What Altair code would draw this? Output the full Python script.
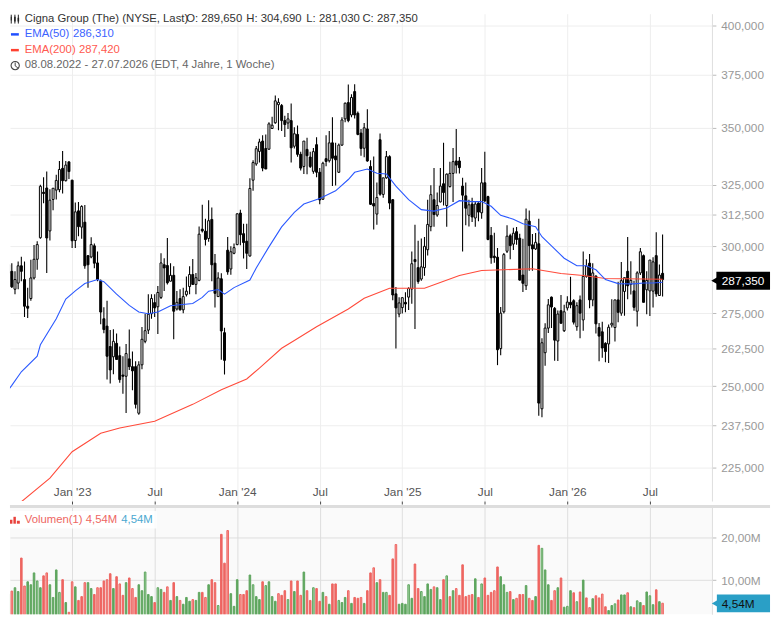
import altair as alt
import pandas as pd

opens = [290.4,289.8,290.4,283.7,286,292.5,287.3,277.5,280.3,287.9,
295,303.4,321.9,323.7,306.1,318.9,322.8,323,332.1,326.8,
334.9,327,302.3,314.2,307.6,309.6,296.4,295.9,300.2,293.6,
286.7,273,270.4,263.3,259.8,264.4,260.2,253.7,253.3,259.1,
256.5,256.5,241.4,257.1,265.1,269,274.8,278.8,277.3,280.7,
292.9,292.6,286.7,288.9,276.5,280.3,276.2,281.7,284.7,289.2,
285.5,287,306.8,306,303.1,310.7,293.5,281,287.6,268.1,
298.5,291.3,297.3,300.7,313.3,305,302,296.3,327,334,
339.5,344.1,340.8,340.5,349.8,352.4,360.8,360.4,353.4,352.3,
353.4,341.8,347.1,338.2,332.9,340.4,337,330.8,342.5,330.4,
319,336.3,335.4,343.3,337.5,330.4,342.3,354.2,361.8,356,
367,356.8,347.7,340.9,349.6,332.9,317.2,312.9,344.7,321,
328,337.2,318.8,282,274.7,277,278.9,280.8,283.8,294.9,
291.8,287.5,291.8,298.7,307.8,318.8,312.5,317.9,325.5,316.4,
324.3,329.9,335.3,335.3,324.5,320.4,312.4,317,311.3,317.4,
313.4,325.9,320.1,304.3,296.2,295.8,262.6,275.5,298.1,304.2,
300.9,305.8,303.2,289,285,310,300.6,299,301,242.8,
261.2,269.7,280.8,276.7,265.2,275.9,268.8,276.9,278.9,279.5,
270.2,279.8,272.6,288.5,293.5,279.8,288.6,269.9,268.4,264.4,
264.2,270.8,269.9,279.8,275,282.9,290.4,285.5,283.1,275.7,
289.8,296.4,283.5,283.1,283,296.4,281.4,289.65]

highs = [292,293.5,293.5,290.4,294.1,296,294.1,284.3,294.8,300.5,
302,325.1,328.3,330.7,323.2,323.7,329.3,335.3,339.7,335.3,
335.2,327.2,317.6,317.9,316.5,316.6,296.4,303.6,301.1,298,
287.3,277.1,279.5,269,269.3,267.8,263.3,260,264.2,269.2,
261.6,258.3,258.3,270.1,274.8,281.9,281.9,281.9,284.9,297.3,
295.4,303.3,293.5,292.3,283.1,283.7,284.3,288.5,292.3,295.1,
289.8,307.9,316.7,311,318.6,315.6,297,290.1,289.7,269.8,
303.7,300,301.1,313.2,314.7,309,309,327.8,335.6,341.9,
345.2,346.7,347.1,352.6,355.2,365.2,363.9,361.1,355.7,356.9,
361.4,350.4,351.2,339.3,344.1,345.6,339.3,341,345.8,332.2,
335,346.7,348.6,354.9,343.3,343,354.9,361.8,370.4,365.7,
370.5,357.6,349.6,352.3,358.7,335.6,337.3,326,347.5,328,
339.7,337.8,319.1,284.5,280.8,280.8,282.6,284.4,298,308.6,
302.2,303.1,303.7,318.8,324.9,332.2,321.8,332.2,343.4,329.9,
335,341,349.6,337,328,326,318.8,319.6,318.3,317.7,
332.2,339.3,320.4,307.7,305.4,299.4,277.2,297.4,308.4,305,
307.4,307.7,305,303,315.2,314.3,304.9,305.3,311,266.2,
271.4,280.1,281,277.2,276,281.6,278,281.1,288.4,280,
278.9,281.4,298,295,297,293.5,288.9,271.5,271.9,264.8,
271,280,279.8,286.5,294,288,303.7,294.2,286.9,290.4,
299.4,296.8,290.4,294.7,295.8,305.6,293,304.69]

lows = [280,287.9,284.2,281.9,283.7,286.7,273.6,273.3,279.5,287.3,
291,303,317.3,289.8,302.3,314.5,318.9,321.9,321.4,326.5,
327.5,299.4,299.4,304,303,291.4,284.3,295.4,291.6,286.7,
271.1,267.9,252.2,250.9,254,258.9,251.2,247.6,241.5,255.4,
248.7,242.9,240.9,255.6,264.4,267.6,273,273.6,267.6,280.1,
283.1,285.5,286.7,265.8,276,276,275,281,281.9,285.3,
281.9,286.7,305.5,300.3,301.8,286.7,277,280.9,258.8,253.9,
289.1,289.1,296.9,300.4,300.4,295.3,291.3,296,322.5,333.2,
334.6,330.8,331.8,340.1,349.6,352,349,348.6,345.9,349.6,
334.6,340.8,337.1,331.2,329.7,329.5,332.2,329.8,328.3,316.9,
318.7,333,334.6,324.5,324.8,330.1,342,352.6,352.6,354.9,
354.4,346.7,337.6,336.9,335,316.6,306.7,308.6,320.4,319.6,
327.6,314.9,279.7,262.6,273.5,274.9,275.3,276.1,278.4,269.4,
285.7,286.9,288.7,296.5,306,307.8,311.8,317.6,316.4,307.8,
323.9,317.9,329.9,329.9,298,308.4,307.9,309.7,307.8,310,
311,317.7,302.4,293.3,293.7,257,260.3,274.9,297.4,295,
298.6,300.6,287,282.7,283.4,290.6,290.6,298.6,240.6,240.1,
256.8,268,269.7,258.5,258.4,271.4,268.3,276,276.8,271,
268.8,266.2,268.8,288,276.8,277.5,267.8,258.3,259.5,258,
257.7,269.9,265,271.8,274.1,274.1,280,281.8,275.9,270.3,
289,278.9,274.6,274,277,280.9,281.2,281.03]

closes = [282,292.9,284.6,287.3,292.5,290.4,277.5,276.8,287.9,295,
300.7,324.4,321.4,303.3,318.6,323.6,326.9,331.6,326.8,333.5,
330.7,302.2,313.8,307.8,316,292.5,292.9,300.7,293.5,287.3,
275.4,269.2,260,255.4,265.1,258.9,252.2,253.3,260.9,256.5,
255.1,244.2,257.1,265.8,268.8,274.6,280.3,276.9,282.5,293.6,
291.7,286.1,288.9,275.7,278.9,276.2,281,283,289.2,285.5,
288,304.8,306.1,302.7,310.2,292.9,282.2,287.9,268.7,258.6,
290.2,297.9,299.5,313,304.6,301.5,297.3,323.5,334.6,340.7,
343.7,332.2,331.8,351.9,351.3,362.6,361.9,353.4,351.6,354.2,
341.1,347.4,338.2,332.2,344.1,337.6,332.9,339.4,330.4,318.7,
334.3,335.1,343.3,336.5,335.8,342.3,353.7,361.5,353.4,364.2,
356,347.1,340.8,350.1,335.3,316.9,316.2,319.7,321.1,328,
337.2,317.4,281.6,276.9,278.7,280.6,278.3,284,293.3,294.1,
286.6,292.1,300,308.7,320.9,312.7,316.4,324.5,321.8,329.6,
329.9,335,333.5,332.4,320.7,315.3,316.7,311.7,317,313.7,
325.9,318.3,302.7,295.6,295.6,262.2,275,296.8,304,300.3,
305.2,302.7,287.1,285.9,310.8,300.3,299,301.6,244.6,264.6,
269.7,278,277.2,265.5,274.7,271.4,275.5,279,278,271.8,
277.7,275,288.5,292.4,279.8,289.8,271.2,266.9,262.8,261.6,
270,271.4,279.8,275.3,286.9,288,285,287,277.1,289.8,
297.9,278.9,287,294.7,294,282,289,287.35]

volumes = [5.5,6.6,7.4,8.2,7.3,15.2,8.6,9.6,8.9,11.7,
9.8,8.2,11.0,11.7,8.9,5.9,12.4,7.1,10.1,4.7,
2.4,9.6,8.4,5.2,6.1,9.4,9.4,8.0,6.6,8.2,
8.2,9.8,10.1,11.5,8.0,10.8,9.1,6.4,9.4,10.5,
8.0,5.9,8.9,7.5,11.9,6.6,6.1,4.7,8.2,7.8,
7.1,8.4,5.2,9.4,6.1,5.2,4.3,5.9,5.0,5.4,
5.2,7.1,7.1,5.9,8.9,10.1,9.4,4.0,20.8,14.0,
21.7,6.8,3.8,10.1,6.6,6.6,7.5,11.2,8.9,6.1,
5.4,9.6,8.7,9.6,6.1,5.0,6.8,6.4,7.5,5.4,
9.8,7.3,9.8,6.4,11.9,7.5,5.2,8.2,8.0,5.0,
7.1,6.1,4.3,9.1,9.1,5.2,4.7,5.9,7.5,4.5,
5.9,5.7,5.9,4.5,7.5,11.7,12.9,9.4,10.1,7.1,
7.1,6.4,15.0,18.4,4.3,4.5,4.3,8.9,5.7,13.8,
8.0,7.3,6.1,9.1,7.8,8.4,8.2,5.4,10.1,11.0,
6.1,7.5,8.0,6.4,13.6,6.1,6.4,6.6,10.3,5.9,
9.1,10.5,6.4,7.1,7.5,13.1,10.8,8.9,7.1,7.3,
5.4,5.7,6.6,6.6,8.7,5.7,5.2,6.1,18.2,17.5,
12.4,8.9,5.2,7.5,8.2,10.5,3.6,3.8,7.5,7.0,
4.9,7.2,10.0,5.8,3.5,5.6,6.3,5.8,6.7,3.7,
2.8,4.0,4.4,5.3,6.5,6.5,7.0,3.7,3.5,5.1,
4.7,4.0,7.2,6.3,4.2,7.7,4.9,4.54]

volume_codes = ("ggRggrRggg" "GgrRgggGrg" "rRgrrRggrR" "rrRrgrRrgr" "RrggGggrGg"
                "rRgrgRgggR" "ggrRgrrGrr" "RgggRrrgGg" "grGgggRrrG" "rgrRgrrGrr"
                "gRgrrGggRg" "rrRgrrRgrg" "GrrRgggGgr" "rGgggRggrG" "rgRrrrRrgr"
                "GrrrRrggGr" "gRrrgRrgrG" "ggrRgrgGgr" "GrgrRgrrRr" "ggGrggRgrG"
                "grgGgrgR")

ema50_weeks = [0,2,5,10,11,16,19,22,25,29,31,35,39,42,45,48,52,59,62,64,67,69,72,77,79,83,87,91,94,99,104,108,110,114,117,120,123,127,131,135,139,143,147,150,153,156,160,163,167,169,172,176,180,183,186,189,193,198,201,204,207]
ema50_vals = [247.6,250.3,254.8,260,263.9,273,280.1,283.1,285.8,287.3,286.5,281.9,277.8,275.4,274.8,275.4,277.7,278.5,280.7,283,283.6,281.9,284.3,287.1,291.7,299.8,307.7,313.6,317,319.3,322.5,327.3,330.4,331.8,330,329.7,324.5,318.8,314.7,314.1,315.4,318.4,318,318,316.1,312.4,310.8,309,307.8,303.8,300.2,295.4,292.5,292.5,291,287.3,285.8,285.7,286,286,286.31]

ema200_weeks = [3,5,14,21,30,36,47,59,68,76,80,87,91,98,108,113,121,132,143,150,166,175,182,189,207]
ema200_vals = [212.6,215.1,221.8,229.6,235.2,236.8,238.9,244.2,248.9,252.4,256,262.7,265.4,270.2,276.5,280.4,284.1,284.1,288.8,290.7,291.4,289.6,288.8,287.7,287.42]

price_ticks = [225,237.5,250,262.5,275,287.5,300,312.5,325,350,375,400]
volume_ticks = [10,20]
month_weeks = [21,47,73,99,125,151,177,203]
month_labels = ["Jan '23","Jul","Jan '24","Jul","Jan '25","Jul","Jan '26","Jul"]

FONT = "Liberation Sans"
OX = 8
OY = 8
GRID = "#eeeeee"

candles = pd.DataFrame({"week": range(208), "o": opens, "h": highs, "l": lows, "c": closes})
candles["up"] = candles.c >= candles.o
vol_df = pd.DataFrame({"week": range(208), "v": volumes, "code": list(volume_codes)})
e50 = pd.DataFrame({"week": ema50_weeks, "v": ema50_vals})
e200 = pd.DataFrame({"week": ema200_weeks, "v": ema200_vals})
one = pd.DataFrame({"k": [0]})

xscale = alt.Scale(domain=[2.97, 221.0], nice=False, zero=False)
yscale = alt.Scale(type="log", domain=[215.3, 406.2], nice=False, clamp=False)
vscale = alt.Scale(domain=[1.93, 27.5], nice=False, zero=False)

month_expr = "{" + ",".join(f'"{w}":"{l}"' for w, l in zip(month_weeks, month_labels)) + "}[datum.value]"

xaxis = alt.Axis(values=month_weeks, labelExpr=month_expr, title=None, grid=True, gridColor=GRID,
                 domain=False, tickColor="#444444", tickSize=3, labelColor="#555555",
                 labelFont=FONT, labelFontSize=12, labelPadding=-18, labelFlush=False, labelOverlap=False)
yaxis = alt.Axis(orient="right", values=price_ticks, title=None, grid=True, gridColor=GRID,
                 labelExpr="replace(format(datum.value,'.3f'),'.',',')", domain=True, domainColor="#dddddd",
                 tickColor="#bbbbbb", tickSize=4, labelColor="#999999", labelFont=FONT, labelFontSize=12,
                 labelPadding=5, labelOverlap=False)


def label(text, x, y, color, size=11.5, weight="normal"):
    return alt.Chart(one).mark_text(text=text, align="left", baseline="middle", font=FONT,
                                    fontSize=size, color=color, fontWeight=weight).encode(
        x=alt.value(x - OX), y=alt.value(y))


def seg(x1, y1, x2, y2, color, w=1.0):
    return alt.Chart(one).mark_rule(color=color, strokeWidth=w).encode(
        x=alt.value(x1 - OX), x2=alt.value(x2 - OX), y=alt.value(y1), y2=alt.value(y2))


def box(x1, y1, x2, y2, color, opacity=1.0, stroke=None):
    kw = {"stroke": stroke, "strokeWidth": 1} if stroke else {}
    return alt.Chart(one).mark_rect(color=color, opacity=opacity, **kw).encode(
        x=alt.value(x1 - OX), x2=alt.value(x2 - OX), y=alt.value(y1), y2=alt.value(y2))


wicks = alt.Chart(candles).mark_rule(color="black", strokeWidth=1.1, clip=True).encode(
    x=alt.X("week:Q", scale=xscale, axis=xaxis),
    y=alt.Y("l:Q", scale=yscale, axis=yaxis),
    y2="h:Q",
)
bodies = alt.Chart(candles).mark_bar(size=2, stroke="black", strokeWidth=1, clip=True).encode(
    x=alt.X("week:Q", scale=xscale),
    y=alt.Y("o:Q", scale=yscale),
    y2="c:Q",
    fill=alt.condition("datum.up", alt.value("white"), alt.value("black")),
)
line50 = alt.Chart(e50).mark_line(color="#2a58ff", strokeWidth=1.1, clip=True).encode(
    x=alt.X("week:Q", scale=xscale), y=alt.Y("v:Q", scale=yscale))
line200 = alt.Chart(e200).mark_line(color="#ff4a3a", strokeWidth=1.1, clip=True).encode(
    x=alt.X("week:Q", scale=xscale), y=alt.Y("v:Q", scale=yscale))

Y = lambda v: v - OY
head = [
    seg(9.3, Y(9), 9.3, Y(18), "#222222"), box(8.8, Y(11), 9.8, Y(15), "#222222"),
    seg(13, Y(9), 13, Y(18), "#222222"), box(12.2, Y(11), 13.8, Y(16), "#222222"),
    seg(16.5, Y(9), 16.5, Y(18), "#222222"), box(15.7, Y(12), 17.3, Y(16), "#222222"),
    label("Cigna Group (The) (NYSE, Last)", 23, Y(13), "#333333"),
    label("O: 289,650", 187, Y(13), "#333333"),
    label("H: 304,690", 248, Y(13), "#333333"),
    label("L: 281,030", 309, Y(13), "#333333"),
    label("C: 287,350", 366, Y(13), "#333333"),
    seg(9, Y(29), 17, Y(29), "#1f4fff", 2.5),
    label("EMA(50)", 23, Y(28.5), "#3b63ff"),
    label("286,310", 72, Y(28.5), "#3b63ff"),
    seg(9, Y(45), 17, Y(45), "#ff4030", 2.5),
    label("EMA(200)", 23, Y(44.5), "#ff5a50"),
    label("287,420", 78, Y(44.5), "#ff5a50"),
    alt.Chart(one).mark_point(shape="circle", filled=False, size=70, color="#444444", strokeWidth=1.1, opacity=1).encode(
        x=alt.value(13.3 - OX), y=alt.value(Y(60.7))),
    seg(13.3, Y(57.5), 13.3, Y(61), "#444444"),
    seg(13.3, Y(61), 16, Y(63), "#444444"),
    label("08.08.2022 - 27.07.2026", 23, Y(60.5), "#666666"),
    label("(EDT, 4 Jahre, 1 Woche)", 151, Y(60.5), "#666666"),
    box(725.5, Y(270), 780, Y(288.5), "black"),
    alt.Chart(one).mark_point(shape="triangle-left", filled=True, size=70, color="black", opacity=1).encode(
        x=alt.value(724 - OX), y=alt.value(Y(279.2))),
    label("287,350", 731, Y(279.5), "white", size=12),
]

top = alt.layer(wicks, bodies, line200, line50, *head).properties(width=713, height=495, view=alt.ViewConfig(stroke=None))

vol_color = alt.Scale(domain=["g", "G", "r", "R"], range=["#5ea65e", "#a6d2a6", "#ee6662", "#f79a96"])
vol_stroke = alt.Scale(domain=["g", "G", "r", "R"], range=["#5ea65e", "#5ea65e", "#ee6662", "#ee6662"])
bars = alt.Chart(vol_df).mark_bar(size=1.6, strokeWidth=1, clip=True).encode(
    x=alt.X("week:Q", scale=xscale, axis=alt.Axis(values=month_weeks, labels=False, ticks=False, domain=False,
                                                  title=None, grid=True, gridColor="#dddddd")),
    y=alt.Y("v:Q", scale=vscale,
            axis=alt.Axis(orient="right", values=volume_ticks, title=None, grid=True, gridColor="#dddddd",
                          labelExpr="datum.value + ',00M'",
                          domain=True, domainColor="#dddddd", tickColor="#bbbbbb", tickSize=4,
                          labelColor="#999999", labelFont=FONT, labelFontSize=12, labelPadding=5)),
    fill=alt.Fill("code:N", scale=vol_color, legend=None),
    stroke=alt.Stroke("code:N", scale=vol_stroke, legend=None),
)
P = lambda v: v - 506
lower = [
    seg(8, P(506.5), 780, P(506.5), "#dddddd", 3),
    box(8, P(511), 157, P(529), "white", opacity=0.85),
    box(8, P(520), 10.5, P(524), "#e8423c"), box(11.5, P(517), 14, P(524), "#e8423c"), box(15, P(521), 18, P(524), "#e8423c"),
    label("Volumen(1)", 23, P(520.5), "#ee6662"),
    label("4,54M", 85, P(520.5), "#ee6662"),
    label("4,54M", 121, P(520.5), "#4aa8d0"),
    box(726, P(596), 780, P(614), "#2a9fc6"),
    alt.Chart(one).mark_point(shape="triangle-left", filled=True, size=70, color="#2a9fc6", opacity=1).encode(
        x=alt.value(724.5 - OX), y=alt.value(P(605))),
    label("4,54M", 731, P(605.5), "#111111", size=12),
]
bottom = alt.layer(bars, *lower).properties(width=713, height=110, view=alt.ViewConfig(fill="#fafafa", stroke=None))

chart = alt.vconcat(top, bottom, spacing=0, padding=0).resolve_scale(x="independent", y="independent", fill="independent", stroke="independent")
chart = chart.configure_view(stroke=None)

chart.save("out.html", embed_options={"renderer": "svg", "actions": False})
